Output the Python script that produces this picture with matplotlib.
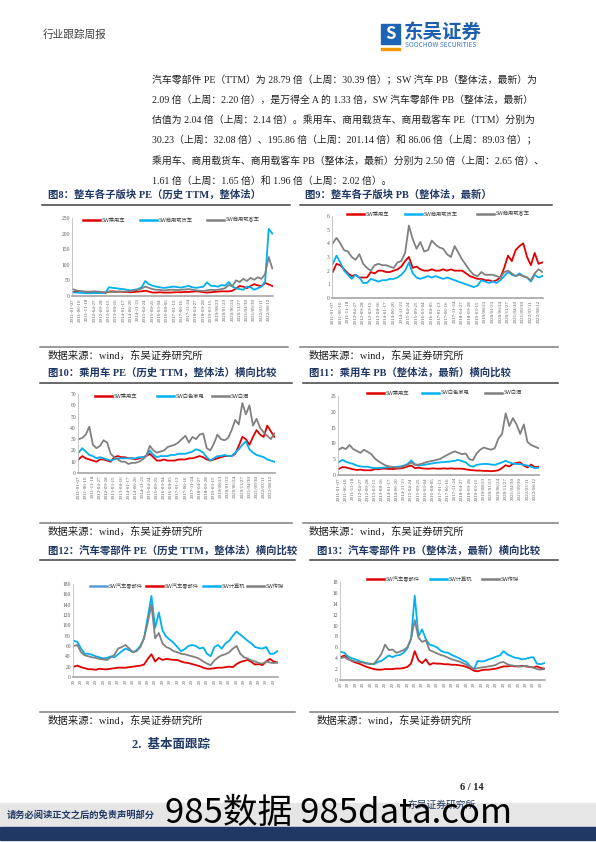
import matplotlib
matplotlib.use("Agg")
import matplotlib.pyplot as plt
from matplotlib.lines import Line2D
from matplotlib.patches import Rectangle

W, H = 596, 842
MIX = ["Liberation Serif", "Noto Sans CJK SC"]
SANS = ["Noto Sans CJK SC", "DejaVu Sans"]
NAVY = "#1F3864"
RED, CYAN, GRAY, STEEL = "#E00000", "#00B0F0", "#808080", "#5B9BD5"

# weekly index of every sampled point (2011-01 .. 2022-11)
weeks = list(range(0, 606, 11))
tick_pos = list(range(0, 595, 22))
tick_labels = [
    "2011-01-07", "2011-06-10", "2011-11-18", "2012-04-27", "2012-09-28",
    "2013-03-15", "2013-08-16", "2014-01-17", "2014-06-20", "2014-11-21",
    "2015-04-24", "2015-09-25", "2016-03-04", "2016-08-05", "2017-01-13",
    "2017-06-16", "2017-11-24", "2018-04-27", "2018-09-28", "2019-03-15",
    "2019/08/23", "2020/01/23", "2020/06/24", "2020/11/27", "2021/04/30",
    "2021/09/30", "2022/03/11", "2022/08/12",
]

pe_passenger = [12, 15, 13, 12, 11, 10, 12, 12, 11, 10,
                14, 15, 14, 14, 13, 13, 12, 13, 14, 15,
                17, 14, 11, 11, 12, 11, 11, 11, 12, 12,
                12, 13, 13, 14, 15, 14, 12, 11, 12, 13,
                14, 15, 15, 15, 17, 24, 32, 30, 25, 32,
                38, 34, 32, 42, 37, 32]
pe_truck = [12, 11, 10, 10, 9, 9, 10, 9, 10, 10,
            28, 26, 25, 23, 22, 20, 18, 20, 22, 28,
            48, 38, 33, 30, 28, 26, 27, 29, 30, 28,
            27, 30, 32, 28, 26, 28, 30, 44, 33, 32,
            30, 35, 33, 45, 30, 25, 22, 20, 30, 28,
            20, 25, 30, 45, 215, 200]
pe_bus = [22, 18, 16, 15, 14, 14, 15, 14, 13, 12,
          14, 13, 13, 14, 14, 15, 16, 18, 20, 24,
          30, 26, 22, 20, 20, 18, 19, 20, 20, 19,
          20, 21, 22, 20, 18, 17, 16, 18, 20, 19,
          20, 22, 25, 35, 32, 50, 45, 55, 48, 58,
          52, 60, 55, 70, 125, 88]

pb_passenger = [1.9, 2.5, 2.4, 2.1, 1.8, 1.6, 1.7, 1.5, 1.5, 1.5,
                1.9, 1.8, 2.0, 2.0, 1.9, 1.9, 2.0, 2.1, 2.3, 2.7,
                3.0, 2.2, 2.3, 2.1, 2.0, 2.0, 2.1, 2.0, 2.0, 2.1,
                2.0, 2.1, 2.0, 2.0, 2.0, 1.8, 1.6, 1.5, 1.4, 1.4,
                1.3, 1.3, 1.2, 1.3, 1.5, 2.2, 3.1, 2.7, 3.5, 3.8,
                4.0, 3.0, 2.4, 3.3, 2.5, 2.6]
pb_truck = [2.5, 3.1, 2.6, 2.0, 1.7, 1.4, 1.7, 1.5, 1.1, 1.1,
            1.4, 1.3, 1.2, 1.3, 1.3, 1.4, 1.4, 1.5, 1.7, 2.0,
            2.6, 1.8, 1.5, 1.4, 1.5, 1.6, 1.5, 1.6, 1.5, 1.4,
            1.5, 1.4, 1.3, 1.2, 1.1, 1.0, 0.9, 0.8, 0.9, 1.3,
            1.2, 1.1, 1.2, 1.1, 1.3, 1.6, 1.9, 1.7, 1.6, 1.8,
            1.6, 1.5, 1.2, 1.7, 1.5, 1.6]
pb_bus = [4.0, 4.4, 4.0, 3.5, 3.4, 3.0, 2.8, 3.2, 2.5, 2.2,
          2.0, 2.4, 2.5, 2.4, 2.4, 2.3, 2.2, 2.6, 2.7, 3.3,
          5.3, 4.3, 3.6, 4.1, 3.4, 3.5, 4.2, 3.9, 3.7, 3.6,
          3.2, 3.0, 3.8, 3.3, 2.8, 2.4, 2.0, 1.7, 1.6, 1.9,
          1.7, 1.7, 1.7, 1.6, 1.5, 1.9, 2.0, 1.8, 1.6, 1.7,
          1.6, 1.5, 1.3, 1.8, 2.1, 1.9]

pe_appliance = [18, 22, 19, 16, 15, 13, 14, 13, 12, 11,
                12, 13, 13, 13, 13, 13, 13, 14, 14, 15,
                20, 16, 14, 15, 15, 15, 16, 16, 17, 17,
                17, 18, 19, 21, 20, 18, 14, 11, 13, 15,
                15, 16, 15, 15, 18, 21, 25, 28, 21, 18,
                16, 15, 14, 12, 11, 10]
pe_liquor = [30, 31, 34, 41, 25, 22, 24, 29, 27, 17,
             14, 12, 10, 10, 8, 9, 9, 10, 12, 15,
             24, 20, 18, 19, 20, 23, 24, 25, 27, 30,
             33, 27, 32, 30, 34, 35, 22, 20, 26, 34,
             30, 29, 31, 38, 47, 43, 62, 52, 60, 42,
             48, 40, 36, 33, 30, 35]
pb_appliance = [4.0, 4.8, 4.2, 3.8, 3.5, 3.0, 2.7, 2.6, 2.6, 2.3,
                2.2, 2.2, 2.3, 2.4, 2.5, 2.5, 2.6, 2.7, 3.0, 3.5,
                4.6, 3.4, 3.0, 3.1, 3.3, 3.5, 3.7, 3.9, 4.0, 4.1,
                4.2, 4.3, 4.5, 4.8, 4.4, 4.0, 3.0, 2.6, 3.2, 3.4,
                3.5, 3.5, 3.3, 3.2, 3.6, 4.0, 4.5, 4.0, 3.6, 3.5,
                3.4, 3.2, 3.0, 2.6, 2.2, 2.3]
pb_liquor = [8.0, 8.7, 8.2, 9.5, 8.2, 7.6, 7.0, 8.0, 7.3, 6.6,
             5.2, 4.3, 3.6, 3.0, 2.7, 2.5, 2.3, 2.4, 2.8, 3.2,
             4.0, 3.2, 3.3, 3.6, 4.0, 4.3, 4.5, 4.8, 5.1, 5.8,
             6.4, 7.0, 7.5, 7.0, 6.6, 6.8, 5.0, 4.7, 6.8, 8.0,
             8.7, 8.3, 8.0, 8.5, 11.5, 13.0, 19.5, 15.5, 18.0, 16.0,
             13.0, 16.0, 10.5, 9.5, 9.0, 8.5]

pe_parts = [20, 22, 19, 17, 15, 15, 14, 16, 15, 15,
            16, 17, 18, 18, 18, 19, 20, 21, 22, 24,
            35, 44, 30, 37, 33, 35, 34, 33, 33, 30,
            28, 27, 25, 23, 21, 18, 16, 16, 17, 18,
            18, 19, 20, 19, 25, 29, 31, 33, 29, 24,
            25, 23, 30, 35, 30, 28]
pe_computer = [70, 68, 55, 45, 45, 43, 40, 38, 36, 37,
               40, 38, 44, 50, 55, 52, 48, 52, 60, 75,
               115, 157, 95, 125, 90, 78, 72, 66, 58, 50,
               54, 60, 62, 60, 55, 57, 45, 40, 58, 62,
               55, 65, 70, 80, 88, 82, 76, 70, 65, 58,
               56, 55, 58, 45, 45, 50]
pe_media = [60, 62, 48, 42, 40, 38, 37, 35, 34, 33,
            38, 43, 55, 58, 62, 55, 48, 50, 58, 75,
            105, 140, 75, 85, 65, 58, 55, 50, 48, 45,
            44, 42, 40, 38, 35, 30, 26, 23, 32, 38,
            42, 44, 48, 55, 60, 45, 38, 36, 32, 30,
            27, 26, 30, 28, 27, 28]
pb_parts = [4.2, 4.5, 3.9, 3.5, 3.2, 3.0, 2.7, 2.4, 2.2, 2.0,
            1.9, 1.9, 2.0, 2.0, 2.0, 2.1, 2.1, 2.2, 2.4, 3.0,
            5.3, 3.6, 3.1, 3.8, 2.8, 3.1, 3.0, 3.0, 2.9, 2.9,
            2.8, 2.8, 2.7, 2.6, 2.4, 2.1, 1.7, 1.6, 1.8, 1.9,
            1.9, 2.0, 2.1, 2.3, 2.5, 2.5, 2.6, 2.5, 2.5, 2.6,
            2.5, 2.4, 2.3, 2.5, 2.2, 2.1]
pb_computer = [5.2, 5.0, 4.3, 4.0, 3.8, 3.5, 3.3, 3.1, 3.0, 2.9,
               3.3, 3.5, 4.0, 4.5, 4.2, 4.5, 4.6, 5.0, 5.8, 7.5,
               15.5, 8.0, 9.3, 7.5, 6.5, 6.3, 6.0, 5.4, 5.1, 5.0,
               4.6, 4.3, 4.0, 3.6, 3.3, 2.5, 2.0, 3.5, 3.4, 3.5,
               3.8, 4.0, 4.3, 4.5, 5.3, 4.7, 4.4, 4.1, 4.0, 3.8,
               3.9, 4.1, 4.2, 3.0, 2.9, 3.1]
pb_media = [4.0, 4.2, 3.8, 3.6, 3.4, 3.3, 3.2, 3.0, 2.9, 3.0,
            3.8, 4.8, 6.5, 5.5, 5.6, 5.0, 5.2, 5.5, 6.0, 7.6,
            11.0, 7.8, 7.0, 7.3, 5.5, 5.2, 4.9, 4.6, 4.4, 4.1,
            3.8, 3.6, 3.4, 3.1, 2.8, 2.4, 2.0, 2.2, 2.3, 2.4,
            2.5, 2.6, 2.8, 3.2, 3.3, 2.9, 2.7, 2.6, 2.5, 2.5,
            2.6, 2.4, 2.3, 2.0, 1.9, 2.0]

paragraph = [
    "汽车零部件 PE（TTM）为 28.79 倍（上周：30.39 倍）；SW 汽车 PB（整体法，最新）为",
    "2.09 倍（上周：2.20 倍），是万得全 A 的 1.33 倍，SW 汽车零部件 PB（整体法，最新）",
    "估值为 2.04 倍（上周：2.14 倍）。乘用车、商用载货车、商用载客车 PE（TTM）分别为",
    "30.23（上周：32.08 倍）、195.86 倍（上周：201.14 倍）和 86.06 倍（上周：89.03 倍）；",
    "乘用车、商用载货车、商用载客车 PB（整体法，最新）分别为 2.50 倍（上周：2.65 倍）、",
    "1.61 倍（上周：1.65 倍）和 1.96 倍（上周：2.02 倍）。",
]
SOURCE = "数据来源：wind，东吴证券研究所"


def fx(px):
    return px / W


def fy(py):
    return 1 - py / H


def hline(fig, x0, x1, y, color, lw):
    fig.add_artist(Line2D([fx(x0), fx(x1)], [fy(y), fy(y)], color=color, lw=lw,
                          transform=fig.transFigure))


def draw_chart(fig, box, series, yticks, short_labels=False):
    """box = (left, right, top, bottom) in pixels of the page."""
    left, right, top, bottom = box
    ax = fig.add_axes([fx(left), fy(bottom), fx(right - left), (bottom - top) / H])
    for vals, color in series:
        ax.plot(weeks, vals, color=color, lw=1.3, solid_joinstyle="round")
    ax.set_xlim(-2, 607)
    ax.set_ylim(0, yticks[-1])
    ax.set_yticks(yticks)
    ax.set_yticklabels([f"{t:g}" for t in yticks], fontsize=4, family=MIX,
                       color="#595959")
    ax.set_xticks(tick_pos)
    labels = [t[:2] for t in tick_labels] if short_labels else tick_labels
    ax.set_xticklabels(labels, rotation=90, fontsize=3.6, family=MIX,
                       color="#595959", va="top")
    ax.tick_params(length=0, pad=1.5)
    for side in ("top", "right"):
        ax.spines[side].set_visible(False)
    ax.spines["left"].set_color("#BFBFBF")
    ax.spines["left"].set_linewidth(0.6)
    ax.spines["bottom"].set_color("#A6A6A6")
    ax.spines["bottom"].set_linewidth(1.2)
    ax.patch.set_alpha(0)
    return ax


def draw_legend(fig, items, y):
    for x0, label, color in items:
        hline(fig, x0, x0 + 17, y, color, 1.8)
        fig.text(fx(x0 + 19), fy(y), label, fontsize=3.8, family=SANS,
                 color="#404040", va="center")


def caption(fig, x, y, text, x0, x1):
    fig.text(fx(x), fy(y), text, fontsize=7.5, family=MIX, weight="bold",
             color=NAVY, va="center")
    hline(fig, x0, x1, y + 10, "#404040", 1.1)


def source(fig, x, y, x0, x1):
    hline(fig, x0, x1, y - 9, "#7F7F7F", 1.1)
    fig.text(fx(x), fy(y), SOURCE, fontsize=7.5, family=MIX, color="#202020",
             va="center")


def page_frame(fig):
    fig.text(fx(43), fy(35), "行业跟踪周报", fontsize=7.7, family=SANS,
             color="#404040", va="center")
    fig.add_artist(Rectangle((fx(381), fy(44)), fx(19), 20 / H, color="#1E64B4",
                             transform=fig.transFigure))
    fig.text(fx(390.5), fy(34), "S", fontsize=12, weight="bold", style="italic",
             color="white", ha="center", va="center", family=SANS)
    fig.add_artist(Rectangle((fx(381), fy(50)), fx(19), 2 / H, color="#F39800",
                             transform=fig.transFigure))
    fig.text(fx(404), fy(32), "东吴证券", fontsize=14, family=SANS, weight="bold",
             color="#1F5FAF", va="center")
    fig.text(fx(405), fy(45), "SOOCHOW SECURITIES", fontsize=4.8, family=SANS,
             color="#3A78C0", va="center")

    for i, line in enumerate(paragraph):
        fig.text(fx(152), fy(80 + 20.2 * i), line, fontsize=7.1, family=MIX,
                 color="#202020", va="center")

    fig.text(fx(132), fy(745), "2.  基本面跟踪", fontsize=9, family=MIX,
             weight="bold", color=NAVY, va="center")
    fig.text(fx(460), fy(787), "6 / 14", fontsize=7.5, family=MIX, weight="bold",
             color="#202020", va="center")
    fig.add_artist(Rectangle((0, fy(827)), 1, 24 / H, color="#E6E6E6",
                             transform=fig.transFigure))
    fig.add_artist(Rectangle((0, fy(840)), 1, 13 / H, color=NAVY,
                             transform=fig.transFigure))
    fig.text(fx(7), fy(815), "请务必阅读正文之后的免责声明部分", fontsize=6.7,
             family=SANS, weight="bold", color=NAVY, va="center")
    fig.text(fx(407), fy(805), "东吴证券研究所", fontsize=7, family=SANS,
             style="italic", color=NAVY, va="center")
    fig.text(fx(165), fy(813), "985数据 985data.com", fontsize=25, family=SANS,
             color="black", va="center")


def main():
    fig = plt.figure(figsize=(W / 100, H / 100), dpi=100)
    page_frame(fig)

    # Figure 8 / 9
    caption(fig, 48, 195, "图8：整车各子版块 PE（历史 TTM，整体法）", 42, 290)
    caption(fig, 305, 195, "图9：整车各子版块 PB（整体法，最新）", 300, 552)
    draw_chart(fig, (72, 273, 218, 296),
               [(pe_passenger, RED), (pe_truck, CYAN), (pe_bus, GRAY)],
               [0, 50, 100, 150, 200, 250])
    draw_legend(fig, [(83, "SW乘用车", RED), (140, "SW商用载货车", CYAN),
                      (207, "SW商用载客车", GRAY)], 220)
    draw_chart(fig, (332, 543, 216, 298),
               [(pb_passenger, RED), (pb_truck, CYAN), (pb_bus, GRAY)],
               [0, 1, 2, 3, 4, 5, 6])
    draw_legend(fig, [(347, "SW乘用车", RED), (405, "SW商用载货车", CYAN),
                      (477, "SW商用载客车", GRAY)], 214)
    source(fig, 48, 356, 40, 288)
    source(fig, 309, 356, 300, 558)

    # Figure 10 / 11
    caption(fig, 48, 373, "图10：乘用车 PE（历史 TTM，整体法）横向比较", 40, 292)
    caption(fig, 309, 373, "图11：乘用车 PB（整体法，最新）横向比较", 303, 558)
    draw_chart(fig, (78, 275, 394, 473),
               [(pe_passenger, RED), (pe_appliance, CYAN), (pe_liquor, GRAY)],
               [0, 10, 20, 30, 40, 50, 60, 70])
    draw_legend(fig, [(95, "SW乘用车", RED), (157, "SW白色家电", CYAN),
                      (212, "SW白酒", GRAY)], 396)
    draw_chart(fig, (338, 539, 396, 475),
               [(pb_passenger, RED), (pb_appliance, CYAN), (pb_liquor, GRAY)],
               [0, 5, 10, 15, 20, 25])
    draw_legend(fig, [(367, "SW乘用车", RED), (422, "SW白色家电", CYAN),
                      (485, "SW白酒", GRAY)], 393)
    source(fig, 48, 532, 40, 292)
    source(fig, 309, 532, 303, 558)

    # Figure 12 / 13
    caption(fig, 48, 550, "图12：汽车零部件 PE（历史 TTM，整体法）横向比较", 40, 295)
    caption(fig, 317, 550, "图13：汽车零部件 PB（整体法，最新）横向比较", 310, 558)
    draw_chart(fig, (73, 278, 584, 677),
               [(pe_parts, RED), (pe_computer, CYAN), (pe_media, GRAY)],
               list(range(0, 181, 20)), short_labels=True)
    draw_legend(fig, [(90, "SW汽车零部件", STEEL), (146, "SW汽车零部件", RED),
                      (203, "SW计算机", CYAN), (247, "SW传媒", GRAY)], 586)
    draw_chart(fig, (340, 545, 582, 680),
               [(pb_parts, RED), (pb_computer, CYAN), (pb_media, GRAY)],
               list(range(0, 19, 2)), short_labels=True)
    draw_legend(fig, [(367, "SW汽车零部件", RED), (430, "SW计算机", CYAN),
                      (482, "SW传媒", GRAY)], 579)
    source(fig, 48, 721, 40, 295)
    source(fig, 317, 721, 310, 558)

    fig.savefig("out.png", dpi=100)
    plt.close(fig)


if __name__ == "__main__":
    main()
